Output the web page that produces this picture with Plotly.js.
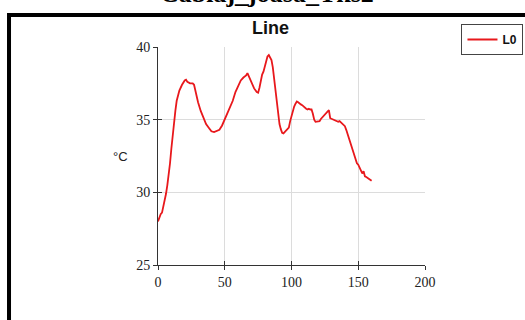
<!DOCTYPE html>
<html>
<head>
<meta charset="utf-8">
<script src="https://cdn.plot.ly/plotly-3.0.1.min.js"></script>
<style>html,body{margin:0;padding:0;background:#fff;}#chart{width:525px;height:320px;}</style>
</head>
<body>
<div id="chart"></div>
<script>
const pageTitle = "Cablaj_joasa_Tks2";
const chartTitle = "Line";
const seriesName = "L0";
const yLabel = "°C";
const xValues = [0,1,2,3,4,5,6,7,8,9,10,11,12,13,14,15,16,18,20,21,22,24,26,27,28,29,30,32,34,36,38,40,42,44,46,48,50,52,54,56,58,60,62,64,66,67,68,70,72,74,75,76,77,78,79,80,81,82,83,84,85,86,87,88,89,90,91,92,93,94,95,96,97,98,99,100,101,102,103,104,105,106,107,108,109,110,111,112,113,114,115,116,117,118,119,120,121,122,123,124,125,126,127,128,129,130,131,132,133,134,135,136,137,138,139,140,141,142,143,144,145,146,147,148,149,150,151,152,153,154,155,156,157,158,159,160];
const yValues = [28.0,28.3,28.5,28.6,29.0,29.4,29.9,30.5,31.2,32.0,33.0,34.0,34.9,35.6,36.3,36.7,37.0,37.4,37.7,37.75,37.6,37.5,37.5,37.4,37.0,36.5,36.2,35.6,35.1,34.7,34.45,34.2,34.15,34.2,34.3,34.6,35.0,35.45,35.8,36.3,36.9,37.3,37.7,37.9,38.05,38.2,38.0,37.5,37.15,36.9,36.85,37.2,37.8,38.1,38.3,38.7,39.1,39.35,39.45,39.3,39.1,38.6,37.8,36.8,36.0,35.3,34.7,34.35,34.1,34.05,34.15,34.25,34.3,34.45,34.9,35.3,35.6,35.9,36.1,36.25,36.2,36.1,36.05,36.0,35.9,35.85,35.75,35.7,35.75,35.7,35.7,35.4,35.0,34.85,34.85,34.85,34.9,35.05,35.15,35.25,35.35,35.45,35.55,35.65,35.1,35.05,35.0,34.95,34.95,34.9,34.85,34.9,34.8,34.75,34.65,34.55,34.3,34.0,33.7,33.35,33.1,32.8,32.5,32.25,32.0,31.9,31.7,31.4,31.3,31.45,31.1,31.05,31.0,30.95,30.85,30.8];
const xTicks = [0,50,100,150,200];
const yTicks = [25,30,35,40];

const serif = "Liberation Serif, Times New Roman, serif";
const sans = "Liberation Sans, Arial, sans-serif";

const data = [{
  x: xValues, y: yValues, type: "scatter", mode: "lines", name: seriesName,
  line: {color: "#e8181c", width: 1.8}
}];

const axBase = {
  showline: true, linecolor: "#333", linewidth: 1, mirror: false,
  zeroline: false, gridcolor: "#dcdcdc", gridwidth: 1,
  ticks: "outside", ticklen: 4, tickcolor: "#333", tickwidth: 1,
  tickfont: {family: serif, size: 14, color: "#222"}
};

const layout = {
  width: 525, height: 320,
  margin: {l: 158, r: 100, t: 47, b: 55},
  paper_bgcolor: "#fff", plot_bgcolor: "#fff",
  showlegend: true,
  legend: {xref: "container", yref: "container", x: 0.879, y: 0.925, xanchor: "left", yanchor: "top",
    bordercolor: "#444", borderwidth: 1, bgcolor: "#fff",
    font: {family: sans, size: 12, color: "#111", weight: "bold"},
    itemwidth: 30, tracegroupgap: 0},
  xaxis: Object.assign({}, axBase, {range: [0, 200], tickvals: xTicks, ticktext: xTicks.map(String)}),
  yaxis: Object.assign({}, axBase, {range: [25, 40], tickvals: yTicks, ticktext: yTicks.map(String)}),
  xaxis2: {overlaying: "x", range: [0, 200], tickvals: xTicks, showticklabels: false, ticks: "inside", ticklen: 4, tickcolor: "#333", showgrid: false, zeroline: false, showline: false, side: "bottom"},
  yaxis2: {overlaying: "y", range: [25, 40], tickvals: yTicks, showticklabels: false, ticks: "inside", ticklen: 4, tickcolor: "#333", showgrid: false, zeroline: false, showline: false, side: "left"},
  annotations: [
    {text: "<b>" + pageTitle + "</b>", xref: "paper", yref: "paper", x: 0.41, y: 1.170, xanchor: "center", yanchor: "bottom", showarrow: false, font: {family: serif, size: 26, color: "#000"}},
    {text: "<b>" + chartTitle + "</b>", xref: "paper", yref: "paper", x: 0.42, y: 1.087, xanchor: "center", yanchor: "middle", showarrow: false, font: {family: sans, size: 18, color: "#111"}},
    {text: yLabel, xref: "paper", yref: "paper", x: -0.142, y: 0.5, xanchor: "center", yanchor: "middle", showarrow: false, font: {family: sans, size: 13, color: "#222"}}
  ],
  shapes: [
    {type: "rect", xref: "paper", yref: "paper", x0: -0.558, x1: 1.6, y0: -0.6, y1: 1.147, line: {color: "#000", width: 4}, fillcolor: "rgba(0,0,0,0)", layer: "below"}
  ]
};

data.push({x: [null], y: [null], xaxis: "x2", yaxis: "y2", showlegend: false, hoverinfo: "skip", type: "scatter", mode: "lines"});

Plotly.newPlot("chart", data, layout, {displayModeBar: false, staticPlot: true});
</script>
</body>
</html>
